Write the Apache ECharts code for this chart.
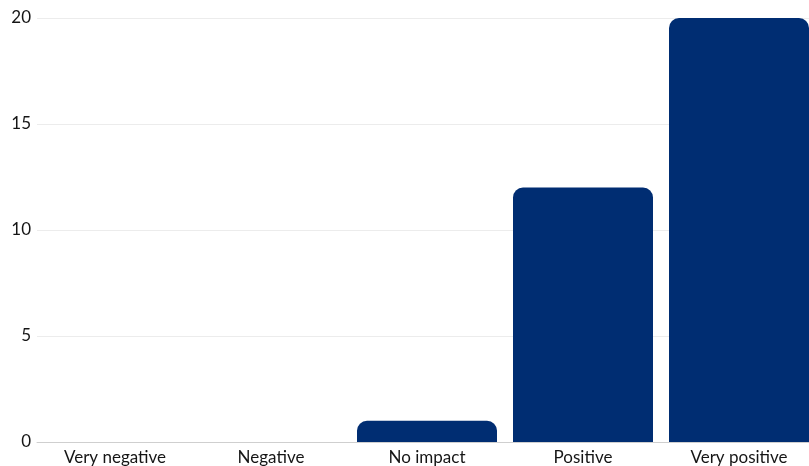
<!DOCTYPE html>
<html>
<head>
<meta charset="utf-8">
<script src="https://cdn.jsdelivr.net/npm/echarts@6/dist/echarts.min.js"></script>
<style>
  html,body{margin:0;padding:0;background:#fff;overflow:hidden;}
  #chart{width:817px;height:466px;}
</style>
</head>
<body>
<div id="chart"></div>
<script>
  var categories = ['Very negative', 'Negative', 'No impact', 'Positive', 'Very positive'];
  var counts = [0, 0, 1, 12, 20];
  var yTicks = [0, 5, 10, 15, 20];

  var chart = echarts.init(document.getElementById('chart'));
  var option = {
    animation: false,
    grid: {
      left: 37,
      right: 0,
      top: 18,
      bottom: 24
    },
    xAxis: {
      type: 'category',
      data: categories,
      axisTick: { show: false },
      axisLine: { lineStyle: { color: '#cfcfcf', width: 1 } },
      axisLabel: {
        color: '#151515',
        fontSize: 17,
        fontFamily: 'Lato',
        margin: 7
      }
    },
    yAxis: {
      type: 'value',
      min: yTicks[0],
      max: yTicks[yTicks.length - 1],
      interval: 5,
      axisLabel: {
        color: '#151515',
        fontSize: 17,
        fontFamily: 'Lato',
        margin: 6
      },
      splitLine: { lineStyle: { color: '#ececec', width: 1 } }
    },
    series: [
      {
        type: 'bar',
        data: counts,
        barWidth: 140,
        itemStyle: {
          color: '#002d72',
          borderRadius: [10, 10, 0, 0]
        }
      }
    ]
  };
  chart.setOption(option);
</script>
</body>
</html>
